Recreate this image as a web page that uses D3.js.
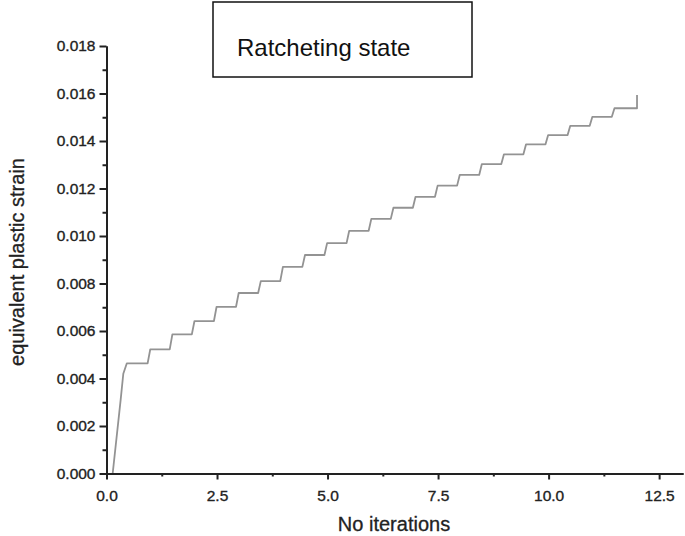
<!DOCTYPE html>
<html>
<head>
<meta charset="utf-8">
<script src="https://cdn.jsdelivr.net/npm/d3@7"></script>
<style>
  body { margin: 0; background: #fff; }
  svg text { font-family: "Liberation Sans", Arial, sans-serif; }
</style>
</head>
<body>
<div id="chart"></div>
<script>
// initial loading ramp (iterations, strain)
var rampX = [0.14, 0.32, 0.38, 0.46];
var rampY = [0.0, 0.0031, 0.0042, 0.00464];
// each ratchet step: iteration where strain jumps, and level after the jump
var stepX = [1.0, 1.5, 2.0, 2.5, 3.0, 3.5, 4.0, 4.5, 5.0, 5.5, 6.0, 6.5, 7.0, 7.5, 8.0, 8.5, 9.0, 9.5, 10.0, 10.5, 11.0, 11.5, 12.0];
var stepY = [0.00523, 0.00586, 0.00642, 0.00702, 0.0076, 0.0081, 0.0087, 0.0092, 0.0097, 0.01022, 0.01072, 0.01119, 0.01165, 0.01212, 0.01257, 0.01303, 0.01344, 0.01386, 0.01425, 0.01464, 0.01502, 0.01538, 0.01594];
var xTicks = [0, 2.5, 5, 7.5, 10, 12.5];
var yTicks = [0, 0.002, 0.004, 0.006, 0.008, 0.010, 0.012, 0.014, 0.016, 0.018];

var width = 685, height = 536;

var svg = d3.select("#chart")
    .append("svg")
    .attr("width", width)
    .attr("height", height);

var xScale = d3.scaleLinear()
    .domain([0, 13.04])
    .range([106.5, 683]);

var yScale = d3.scaleLinear()
    .domain([0, 0.018])
    .range([473.5, 46]);

// build the path points
var pts = [];
for (var i = 0; i < rampX.length; i++) {
    pts.push([rampX[i], rampY[i]]);
}
var prev = rampY[rampY.length - 1];
for (var j = 0; j < stepX.length; j++) {
    if (j == stepX.length - 1) {
        // last one is a straight vertical jump
        pts.push([stepX[j], prev]);
        pts.push([stepX[j], stepY[j]]);
    } else {
        pts.push([stepX[j] - 0.07, prev]);
        pts.push([stepX[j] - 0.01, stepY[j]]);
    }
    prev = stepY[j];
}

var line = d3.line()
    .x(function(d) { return xScale(d[0]); })
    .y(function(d) { return yScale(d[1]); });

svg.append("path")
    .datum(pts)
    .attr("fill", "none")
    .attr("stroke", "#939393")
    .attr("stroke-width", 1.8)
    .attr("stroke-linejoin", "round")
    .attr("d", line);

// axes
var axisBottom = d3.axisBottom(xScale)
    .tickValues(xTicks)
    .tickFormat(d3.format(".1f"))
    .tickSize(6)
    .tickPadding(10)
    .tickSizeOuter(0);

var axisLeft = d3.axisLeft(yScale)
    .tickValues(yTicks)
    .tickFormat(d3.format(".3f"))
    .tickSize(7)
    .tickPadding(4)
    .tickSizeOuter(0);

var minorX = d3.axisBottom(xScale)
    .tickValues([1.25, 3.75, 6.25, 8.75, 11.25])
    .tickFormat("")
    .tickSize(3)
    .tickSizeOuter(0);

var minorY = d3.axisLeft(yScale)
    .tickValues([0.001, 0.003, 0.005, 0.007, 0.009, 0.011, 0.013, 0.015, 0.017])
    .tickFormat("")
    .tickSize(4)
    .tickSizeOuter(0);

svg.append("g").attr("class", "axis").attr("transform", "translate(0," + yScale(0) + ")").call(minorX);
svg.append("g").attr("class", "axis").attr("transform", "translate(" + xScale(0) + ",0)").call(minorY);
svg.append("g").attr("class", "axis").attr("transform", "translate(0," + yScale(0) + ")").call(axisBottom);
svg.append("g").attr("class", "axis").attr("transform", "translate(" + xScale(0) + ",0)").call(axisLeft);

svg.selectAll(".axis path, .axis line")
    .attr("stroke", "#222")
    .attr("stroke-width", 2);
svg.selectAll(".axis text")
    .attr("fill", "#222")
    .attr("stroke", "#222")
    .attr("stroke-width", 0.35)
    .style("font-size", "15.5px");

// axis titles
svg.append("text")
    .attr("x", 394)
    .attr("y", 531)
    .attr("text-anchor", "middle")
    .attr("fill", "#222")
    .attr("stroke", "#222")
    .attr("stroke-width", 0.3)
    .style("font-size", "20px")
    .text("No iterations");

svg.append("text")
    .attr("transform", "translate(24,262) rotate(-90)")
    .attr("text-anchor", "middle")
    .attr("fill", "#222")
    .attr("stroke", "#222")
    .attr("stroke-width", 0.3)
    .style("font-size", "20px")
    .text("equivalent plastic strain");

// title box
svg.append("rect")
    .attr("x", 213)
    .attr("y", 2)
    .attr("width", 259)
    .attr("height", 75)
    .attr("fill", "#fff")
    .attr("stroke", "#111")
    .attr("stroke-width", 1.5);

svg.append("text")
    .attr("x", 237)
    .attr("y", 56)
    .attr("fill", "#111")
    .style("font-size", "24px")
    .text("Ratcheting state");
</script>
</body>
</html>
